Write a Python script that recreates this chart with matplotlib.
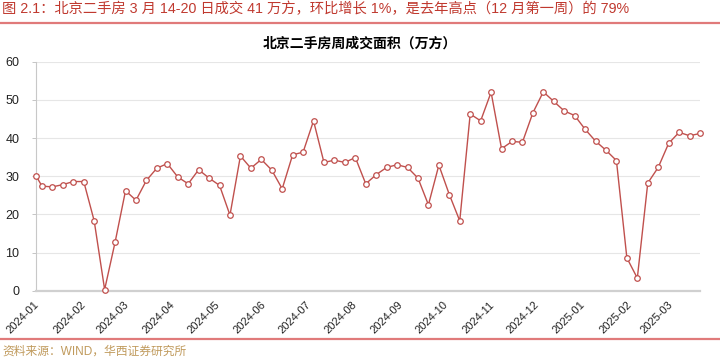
import matplotlib
matplotlib.use('Agg')
import matplotlib.pyplot as plt
import matplotlib.dates as mdates
from matplotlib.lines import Line2D
import pandas as pd

plt.rcParams['font.family'] = ['Liberation Sans', 'Noto Sans CJK SC', 'DejaVu Sans']

# weekly transaction area, Beijing second-hand homes (10k m2)
first_date = '2023-12-31'
weekly_start = '2024-01-04'
weekly_count = 64
values = [
    30.1, 27.4, 27.2, 27.8, 28.6, 28.6, 18.3, 0.3, 12.7, 26.2,
    23.7, 28.9, 32.1, 33.3, 29.8, 28.0, 31.7, 29.5, 27.6, 19.8,
    35.3, 32.1, 34.4, 31.6, 26.7, 35.6, 36.3, 44.5, 33.6, 34.2,
    33.6, 34.9, 28.0, 30.4, 32.3, 33.0, 32.3, 29.5, 22.5, 32.9,
    25.2, 18.3, 46.3, 44.5, 52.0, 37.2, 39.1, 38.9, 46.6, 52.1,
    49.6, 47.1, 45.9, 42.3, 39.2, 36.8, 34.1, 8.6, 3.3, 28.2,
    32.3, 38.6, 41.5, 40.6, 41.2,
]
dates = [pd.Timestamp(first_date)] + list(pd.date_range(weekly_start, periods=weekly_count, freq='7D'))

fig_title = '图 2.1：北京二手房 3 月 14-20 日成交 41 万方，环比增长 1%，是去年高点（12 月第一周）的 79%'
chart_title = '北京二手房周成交面积（万方）'
source = '资料来源：WIND，华西证券研究所'

line_color = '#C0504D'
red = '#C0392F'
rule_color = '#E07A7A'
gold = '#C09A5C'

fig = plt.figure(figsize=(7.2, 3.6), dpi=100)
ax = fig.add_axes([0.05, 0.1925, 0.9222, 0.6361])

ax.plot(dates, values, color=line_color, linewidth=1.0,
        marker='o', markersize=4, markerfacecolor='white',
        markeredgecolor=line_color, markeredgewidth=0.9, clip_on=False, zorder=3)

ax.set_xlim(pd.Timestamp(first_date), dates[-1])
ax.set_ylim(0, 60)
ax.set_yticks(range(0, 61, 10))
ax.yaxis.grid(True, color='#E6E6E6', linewidth=0.8)
ax.set_axisbelow(True)

ax.xaxis.set_major_locator(mdates.MonthLocator())
ax.xaxis.set_major_formatter(mdates.DateFormatter('%Y-%m'))
ax.tick_params(axis='x', length=0, pad=9, labelsize=8, colors='#222222')
ax.tick_params(axis='y', length=3, width=0.6, color='#BBBBBB', pad=9, labelsize=9, labelcolor='#222222')
for lbl in ax.get_xticklabels():
    lbl.set_rotation(45)
    lbl.set_ha('right')
    lbl.set_va('center')
    lbl.set_rotation_mode('anchor')

for side in ['top', 'right']:
    ax.spines[side].set_visible(False)
ax.spines['left'].set_color('#C8C8C8')
ax.spines['left'].set_linewidth(0.8)
ax.spines['bottom'].set_color('#D0D0D0')
ax.spines['bottom'].set_linewidth(1.6)

fig.text(0.5, 0.878, chart_title, fontsize=10, fontweight='bold', ha='center', va='center',
         family=['Noto Sans CJK SC', 'DejaVu Sans'])

fig.text(0.003, 0.975, fig_title, color=red, fontsize=10.3, ha='left', va='center')
fig.add_artist(Line2D([0, 1], [0.936, 0.936], color=rule_color, linewidth=1.6))
fig.add_artist(Line2D([0, 1], [0.057, 0.057], color=rule_color, linewidth=1.6))
fig.text(0.003, 0.024, source, color=gold, fontsize=8.5, ha='left', va='center')

fig.savefig('out.png', dpi=100)
